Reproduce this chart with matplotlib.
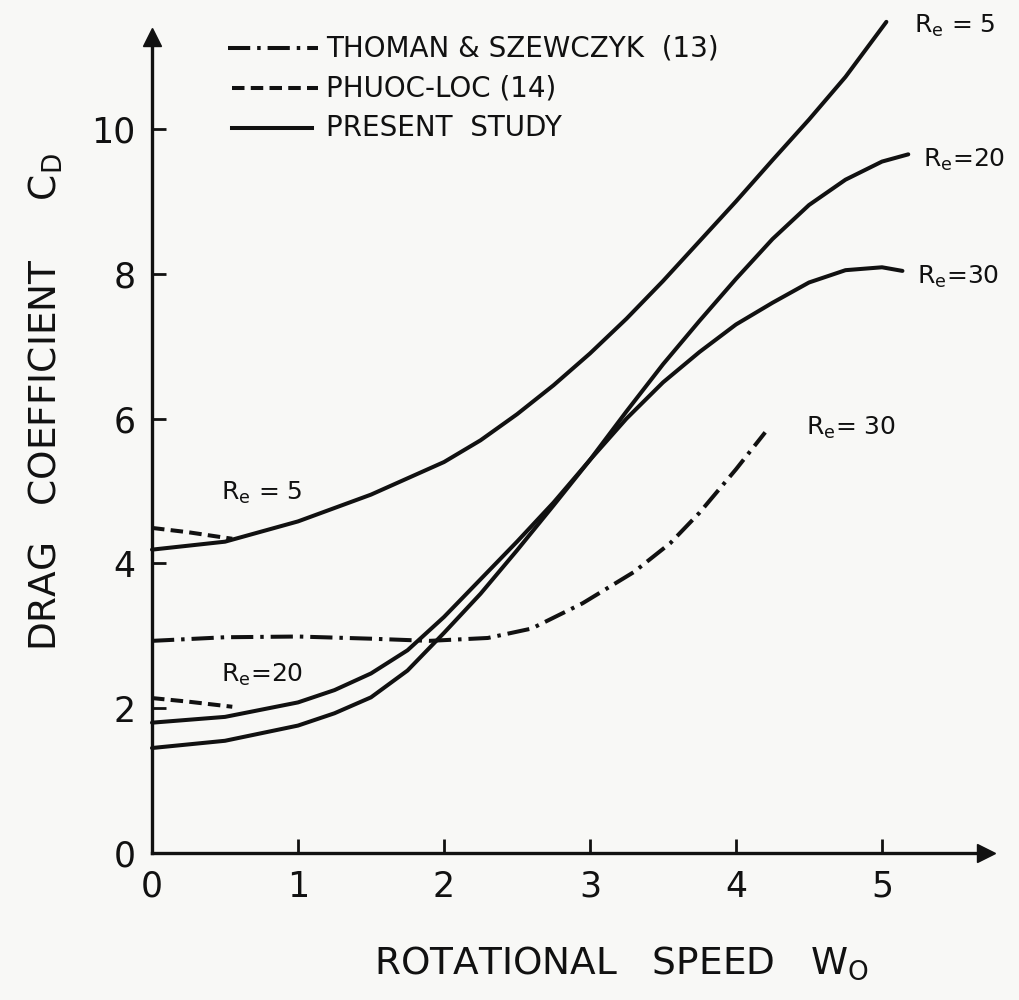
import matplotlib
matplotlib.use("Agg")
import matplotlib.pyplot as plt
from matplotlib.lines import Line2D

plt.rcParams['font.family'] = ['DejaVu Sans']
plt.rcParams['mathtext.fontset'] = 'dejavusans'
plt.rcParams['lines.scale_dashes'] = False

# ---- data ----
# Present study, Re = 5
w_re5 = [0, 0.5, 1.0, 1.5, 2.0, 2.25, 2.5, 2.75, 3.0, 3.25, 3.5, 3.75, 4.0, 4.25, 4.5, 4.75, 5.03]
cd_re5 = [4.19, 4.30, 4.58, 4.95, 5.40, 5.70, 6.06, 6.46, 6.90, 7.38, 7.90, 8.45, 9.00, 9.57, 10.13, 10.72, 11.48]
# Present study, Re = 20
w_re20 = [0, 0.5, 1.0, 1.25, 1.5, 1.75, 2.0, 2.25, 2.5, 2.75, 3.0, 3.25, 3.5, 3.75,
          4.0, 4.25, 4.5, 4.75, 5.0, 5.18]
cd_re20 = [1.80, 1.88, 2.08, 2.25, 2.48, 2.80, 3.26, 3.78, 4.30, 4.84, 5.43, 6.10, 6.75, 7.35,
           7.93, 8.48, 8.95, 9.30, 9.55, 9.65]
# Present study, Re = 30
w_re30 = [0, 0.5, 1.0, 1.25, 1.5, 1.75, 2.0, 2.25, 2.5, 2.75, 3.0, 3.25, 3.5, 3.75,
          4.0, 4.25, 4.5, 4.75, 5.0, 5.14]
cd_re30 = [1.45, 1.55, 1.76, 1.93, 2.15, 2.52, 3.04, 3.58, 4.18, 4.80, 5.43, 6.00, 6.50, 6.92,
           7.30, 7.60, 7.88, 8.05, 8.09, 8.04]
# Thoman & Szewczyk (13), Re = 30
w_thoman = [0, 0.5, 1.0, 1.5, 1.9, 2.3, 2.6, 2.95, 3.3, 3.55, 3.75, 4.0, 4.2]
cd_thoman = [2.93, 2.98, 2.99, 2.96, 2.93, 2.97, 3.10, 3.45, 3.88, 4.28, 4.70, 5.30, 5.81]
# Phuoc-Loc (14), Re = 5 and Re = 20
w_phuoc = [0, 0.25, 0.55]
cd_phuoc5 = [4.49, 4.43, 4.34]
cd_phuoc20 = [2.14, 2.09, 2.02]

x_ticks = [0, 1, 2, 3, 4, 5]
y_ticks = [0, 2, 4, 6, 8, 10]
legend_labels = ["THOMAN & SZEWCZYK  (13)", "PHUOC-LOC (14)", "PRESENT  STUDY"]

# ---- figure ----
W, H = 1020, 1000
fig = plt.figure(figsize=(W / 100, H / 100), dpi=100)
bg = '#f8f8f6'
fig.patch.set_facecolor(bg)
PX_X, PX_Y = 146.0, 72.4      # pixels per data unit
X0, Y0 = 152, 853             # pixel position of the origin
XMAX, YMAX = 5.71, 11.27
ax = fig.add_axes([X0 / W, (H - Y0) / H, XMAX * PX_X / W, YMAX * PX_Y / H])
ax.set_facecolor(bg)
ax.set_xlim(0, XMAX)
ax.set_ylim(0, YMAX)

ink = '#111111'
lw = 2.9
dashdot = (0, (16, 5, 2.5, 5))
dashed = (0, (9, 4.5))

common = dict(color=ink, lw=lw, clip_on=False)
ax.plot(w_re5, cd_re5, solid_capstyle='round', solid_joinstyle='round', **common)
ax.plot(w_re20, cd_re20, solid_capstyle='round', solid_joinstyle='round', **common)
ax.plot(w_re30, cd_re30, solid_capstyle='round', solid_joinstyle='round', **common)
ax.plot(w_thoman, cd_thoman, linestyle=dashdot, **common)
ax.plot(w_phuoc, cd_phuoc5, linestyle=dashed, **common)
ax.plot(w_phuoc, cd_phuoc20, linestyle=dashed, **common)

# axes styling
for s in ['top', 'right']:
    ax.spines[s].set_visible(False)
for s in ['left', 'bottom']:
    ax.spines[s].set_linewidth(2.4)
    ax.spines[s].set_color(ink)
ax.plot([XMAX], [0], marker='>', markersize=13, color=ink, clip_on=False)
ax.plot([0], [YMAX], marker='^', markersize=13, color=ink, clip_on=False)

ax.set_xticks(x_ticks)
ax.set_yticks(y_ticks)
ax.set_xticklabels([str(t) for t in x_ticks])
ax.set_yticklabels([str(t) for t in y_ticks])
ax.tick_params(direction='in', length=10, width=2, colors=ink, labelsize=25)
ax.tick_params(axis='x', pad=12)
ax.tick_params(axis='y', pad=12)

def fx(px):
    return px / W
def fy(py):
    return 1 - py / H

fig.text(fx(622), fy(963), r"ROTATIONAL   SPEED   W$_\mathrm{O}$", fontsize=27,
         color=ink, ha='center', va='center')
fig.text(fx(46), fy(402), r"DRAG   COEFFICIENT     C$_\mathrm{D}$", fontsize=27,
         color=ink, ha='center', va='center', rotation=90)

# curve labels
tk = dict(fontsize=18, color=ink, va='center', ha='left', clip_on=False)
ax.text(5.22, 11.42, r"R$_\mathrm{e}$ = 5", **tk)
ax.text(5.28, 9.57, r"R$_\mathrm{e}$=20", **tk)
ax.text(5.24, 7.96, r"R$_\mathrm{e}$=30", **tk)
ax.text(4.48, 5.87, r"R$_\mathrm{e}$= 30", **tk)
ax.text(0.47, 4.97, r"R$_\mathrm{e}$ = 5", **tk)
ax.text(0.47, 2.46, r"R$_\mathrm{e}$=20", **tk)

# legend drawn in figure pixel coordinates
rows = [(48, dashdot, 228, 318), (88, dashed, 232, 318), (128, '-', 232, 312)]
for (py, ls, x0, x1), lab in zip(rows, legend_labels):
    fig.add_artist(Line2D([fx(x0), fx(x1)], [fy(py), fy(py)], color=ink, lw=lw, linestyle=ls))
    fig.text(fx(326), fy(py), lab, fontsize=20, color=ink, va='center', ha='left')

fig.savefig("out.png", dpi=100, facecolor=bg)
